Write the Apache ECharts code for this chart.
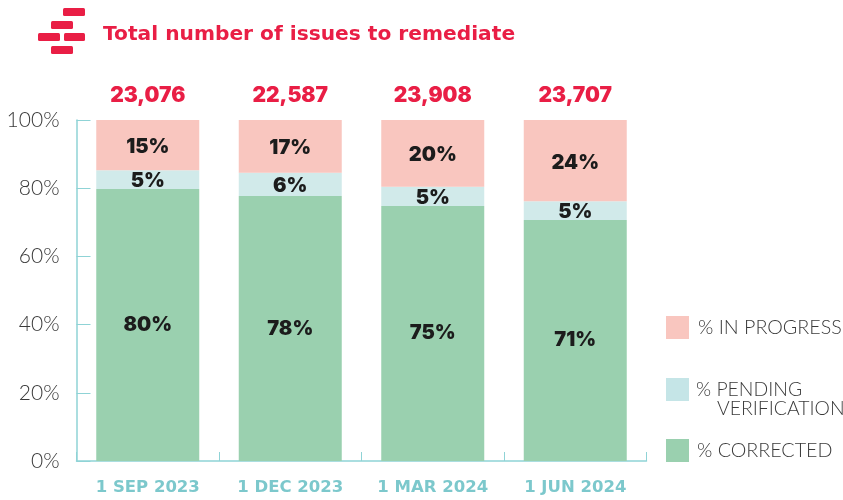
<!DOCTYPE html>
<html><head><meta charset="utf-8">
<style>html,body{margin:0;padding:0;background:#fff}#c{width:843px;height:500px}</style>
<script src="https://cdn.jsdelivr.net/npm/echarts@6/dist/echarts.min.js"></script>
</head><body><div id="c"></div>
<script>
const titleText = 'Total number of issues to remediate';
const categories = ['1 SEP 2023','1 DEC 2023','1 MAR 2024','1 JUN 2024'];
const totals = ['23,076','22,587','23,908','23,707'];
const corrected = [79.8,77.7,74.8,70.7];
const pending = [5.5,6.8,5.6,5.5];
const inProgress = [14.7,15.5,19.6,23.8];
const correctedLabels = ['80%','78%','75%','71%'];
const pendingLabels = ['5%','6%','5%','5%'];
const inProgressLabels = ['15%','17%','20%','24%'];
const bodyFont = 'Lato';
const boldFont = 'Inter';
const red = '#e91e45', teal = '#8fd3d6', tealText = '#7cc8cc', dark = '#1c1c1c', grey = '#3a3a3a';
const nProgress = '% IN PROGRESS', nPending = '% PENDING VERIFICATION', nCorrected = '% CORRECTED';

function barSeries(name, data, labels, color, dy){
  return {name, type:'bar', stack:'s', data, barWidth:103, itemStyle:{color},
    label:{show:true, position:'inside', offset:[0,dy], color:dark, fontFamily:boldFont, fontWeight:900, fontSize:20, letterSpacing:1.5,
      formatter:p=>labels[p.dataIndex]}};
}
function legendAt(name, color, top, pad, size, fmt){
  return {left:661, top, orient:'vertical', selectedMode:false, itemWidth:23, itemHeight:23, icon:'rect',
    data:[{name, itemStyle:{color}}], formatter:fmt||(n=>n),
    textStyle:{fontFamily:bodyFont, fontWeight:300, fontSize:size, color:grey, padding:[0,0,0,pad], lineHeight:19}};
}
const chart = echarts.init(document.getElementById('c'), null, {renderer:'canvas'});
const brick = (x,y,w)=>({type:'rect', shape:{x,y,width:w,height:8,r:1.5}, style:{fill:red}, silent:true});
chart.setOption({
  animation:false,
  title:{text:titleText, left:98, top:20, textStyle:{color:red, fontFamily:'DejaVu Sans', fontWeight:'bold', fontSize:20.2}},
  grid:{left:76.5, right:196.5, top:120, bottom:39},
  legend:[
    legendAt(nProgress,'#f9c6bf',311,4,19.7),
    legendAt(nPending,'#c5e5e7',356,2,19.4,()=>'\n% PENDING\n    VERIFICATION'),
    legendAt(nCorrected,'#9ad0af',434,3,19.7)
  ],
  xAxis:{type:'category', data:categories,
    axisLine:{lineStyle:{color:teal,width:1.5}},
    axisTick:{show:true, inside:true, length:9, interval:0, lineStyle:{color:teal}},
    axisLabel:{interval:0, color:tealText, fontFamily:'DejaVu Sans', fontWeight:'bold', fontSize:16.5, margin:18}},
  yAxis:{type:'value', min:0, max:100, interval:20,
    axisLine:{show:true, lineStyle:{color:teal,width:1.5}},
    axisTick:{show:true, inside:true, length:14, lineStyle:{color:teal}},
    splitLine:{show:false},
    axisLabel:{color:grey, fontFamily:bodyFont, fontWeight:300, fontSize:21, margin:17, padding:[2,0,0,0], formatter:v=>v+'%'}},
  series:[
    barSeries(nCorrected,corrected,correctedLabels,'#9ad0af',0),
    barSeries(nPending,pending,pendingLabels,'#d1eaea',1.5),
    barSeries(nProgress,inProgress,inProgressLabels,'#f9c6bf',2),
    {name:'total', type:'line', data:categories.map(()=>100), symbol:'circle', symbolSize:1, itemStyle:{opacity:0}, lineStyle:{opacity:0}, silent:true, z:5,
     label:{show:true, position:'top', distance:13, color:red, opacity:1, fontFamily:boldFont, fontWeight:900, fontSize:21, letterSpacing:1,
       formatter:p=>totals[p.dataIndex]}}
  ],
  graphic:[brick(63,8,22),brick(51,21,22),brick(38,33,22),brick(64,33,21),brick(51,46,22)]
});
</script></body></html>
